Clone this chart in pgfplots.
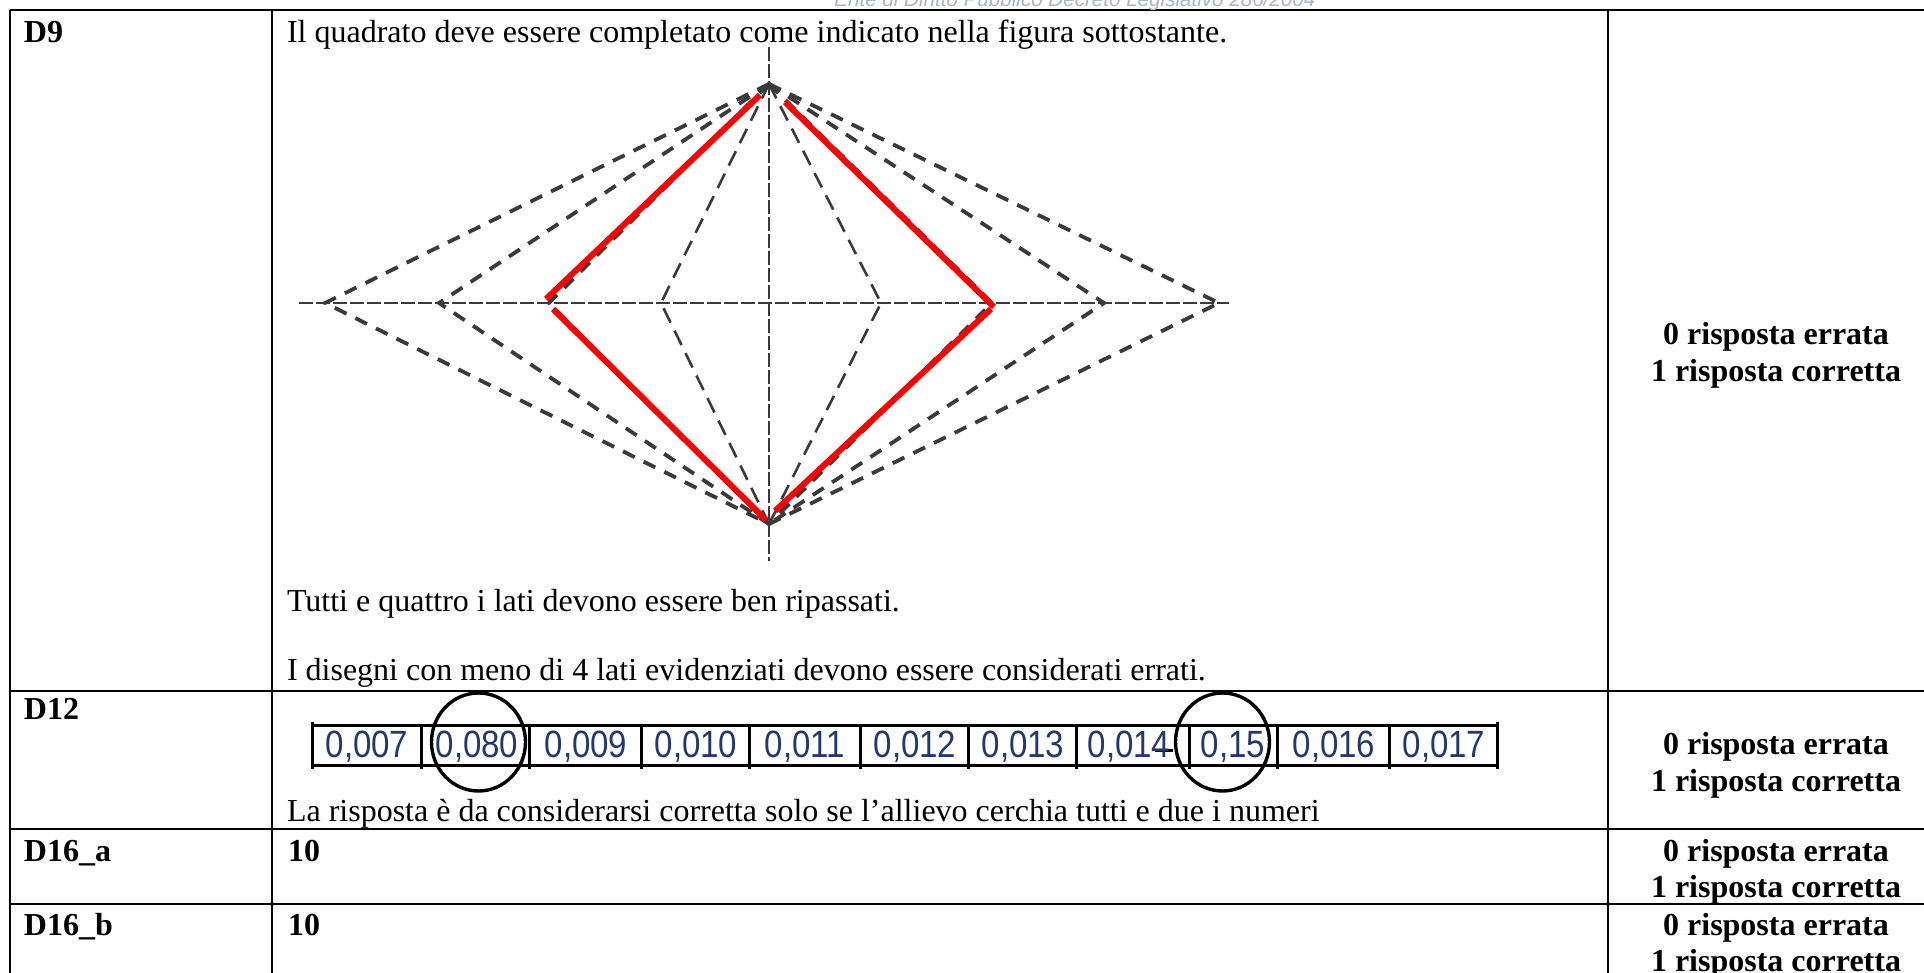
\documentclass[border=0pt]{standalone}
\usepackage{fontspec}
\setmainfont{Liberation Serif}
\newfontfamily\numfont[FakeStretch=0.87]{Liberation Sans}
\newfontfamily\headfont{Liberation Sans}
\usepackage{pgfplots}
\pgfplotsset{compat=1.18}
\definecolor{dashc}{HTML}{3A3A3A}
\definecolor{numcol}{HTML}{24386E}
\definecolor{headcol}{HTML}{A9B4C6}
\tikzset{
  txt/.style={inner sep=0pt, outer sep=0pt, font=\fontsize{16}{19}\selectfont},
  num/.style={inner sep=0pt, outer sep=0pt, anchor=base, text=numcol, font=\numfont\fontsize{19}{22}\selectfont},
}
\begin{document}
\begin{tikzpicture}
\useasboundingbox (0,0) rectangle (962pt,486.5pt);
\begin{axis}[
  at={(0,0)}, anchor=south west,
  scale only axis, width=962pt, height=486.5pt,
  xmin=0, xmax=1924, ymin=0, ymax=973, y dir=reverse,
  axis lines=none, clip=false,
  rule/.style={black, line width=1.2pt},
  outerd/.style={dashc, line width=1.9pt, dash pattern=on 6.5pt off 5pt},
  innerd/.style={dashc, line width=1.3pt, dash pattern=on 8pt off 4.5pt},
  axisd/.style={dashc, line width=0.9pt, dash pattern=on 7pt off 1.5pt},
  redl/.style={red, line width=3pt},
  cell/.style={black, line width=1.5pt},
]
% table rules
\addplot[rule] coordinates {(10,10)(1924,10)};
\addplot[rule] coordinates {(10,691)(1924,691)};
\addplot[rule] coordinates {(10,829)(1924,829)};
\addplot[rule] coordinates {(10,904)(1924,904)};
\addplot[rule] coordinates {(10,10)(10,973)};
\addplot[rule] coordinates {(272,10)(272,973)};
\addplot[rule] coordinates {(1608,10)(1608,973)};
% axes of the figure
\addplot[axisd] coordinates {(299,303)(1229,303)};
\addplot[axisd] coordinates {(769,47)(769,561)};
% dashed rhombi
\addplot[outerd] coordinates {(769,84)(325,303)(769,524)};
\addplot[outerd] coordinates {(769,84)(439,303)(769,524)};
\addplot[outerd] coordinates {(769,84)(549,303)(769,524)};
\addplot[innerd] coordinates {(769,84)(661,303)(769,524)};
\addplot[innerd] coordinates {(769,84)(881,303)(769,524)};
\addplot[outerd] coordinates {(769,84)(992,303)(769,524)};
\addplot[outerd] coordinates {(769,84)(1104,303)(769,524)};
\addplot[outerd] coordinates {(769,84)(1219,303)(769,524)};
% red sides
\addplot[redl] coordinates {(760,95)(546,299)};
\addplot[redl] coordinates {(785,102)(994,307)};
\addplot[redl] coordinates {(553,309)(766,520)};
\addplot[redl] coordinates {(991,309)(775,511)};
% number strip
\addplot[cell] coordinates {(312,725)(1497,725)};
\addplot[cell] coordinates {(312,765)(1497,765)};
\addplot[cell] coordinates {(312,722)(312,769)};
\addplot[cell] coordinates {(421,725)(421,769)};
\addplot[cell] coordinates {(529,725)(529,769)};
\addplot[cell] coordinates {(641,725)(641,769)};
\addplot[cell] coordinates {(749,725)(749,769)};
\addplot[cell] coordinates {(860,725)(860,769)};
\addplot[cell] coordinates {(968,725)(968,769)};
\addplot[cell] coordinates {(1076,725)(1076,769)};
\addplot[cell] coordinates {(1189,725)(1189,769)};
\addplot[cell] coordinates {(1277,725)(1277,769)};
\addplot[cell] coordinates {(1389,725)(1389,769)};
\addplot[cell] coordinates {(1497,722)(1497,769)};
\addplot[cell] coordinates {(1155,750)(1173,750)};
\node[num] at (axis cs:367,757) {0,007};
\node[num] at (axis cs:477,757) {0,080};
\node[num] at (axis cs:586,757) {0,009};
\node[num] at (axis cs:696,757) {0,010};
\node[num] at (axis cs:805,757) {0,011};
\node[num] at (axis cs:915,757) {0,012};
\node[num] at (axis cs:1023,757) {0,013};
\node[num] at (axis cs:1129,757) {0,014};
\node[num] at (axis cs:1233,757) {0,15};
\node[num] at (axis cs:1334,757) {0,016};
\node[num] at (axis cs:1444,757) {0,017};
\draw[black, line width=1.7pt] (axis cs:478.5,742) ellipse [x radius=23.5pt, y radius=24.5pt];
\draw[black, line width=1.7pt] (axis cs:1222.5,742) ellipse [x radius=23.5pt, y radius=24.5pt];
% text
\node[inner sep=0pt, anchor=base west, text=headcol, font=\headfont\itshape\fontsize{10.3}{12}\selectfont] at (axis cs:834,7) {Ente di Diritto Pubblico Decreto Legislativo 286/2004};
\node[txt, anchor=base west] at (axis cs:24,43) {\textbf{D9}};
\node[txt, anchor=base west] at (axis cs:24,719) {\textbf{D12}};
\node[txt, anchor=base west] at (axis cs:24,861) {\textbf{D16\_a}};
\node[txt, anchor=base west] at (axis cs:24,935) {\textbf{D16\_b}};
\node[txt, anchor=base west] at (axis cs:287,43) {Il quadrato deve essere completato come indicato nella figura sottostante.};
\node[txt, anchor=base west] at (axis cs:287,611) {Tutti e quattro i lati devono essere ben ripassati.};
\node[txt, anchor=base west] at (axis cs:287,680) {I disegni con meno di 4 lati evidenziati devono essere considerati errati.};
\node[txt, anchor=base west] at (axis cs:287,821) {La risposta è da considerarsi corretta solo se l’allievo cerchia tutti e due i numeri};
\node[txt, anchor=base west] at (axis cs:288,861) {\textbf{10}};
\node[txt, anchor=base west] at (axis cs:288,935) {\textbf{10}};
\node[txt, anchor=base] at (axis cs:1776,345) {\textbf{0 risposta errata}};
\node[txt, anchor=base] at (axis cs:1776,382) {\textbf{1 risposta corretta}};
\node[txt, anchor=base] at (axis cs:1776,754) {\textbf{0 risposta errata}};
\node[txt, anchor=base] at (axis cs:1776,791) {\textbf{1 risposta corretta}};
\node[txt, anchor=base] at (axis cs:1776,861) {\textbf{0 risposta errata}};
\node[txt, anchor=base] at (axis cs:1776,897) {\textbf{1 risposta corretta}};
\node[txt, anchor=base] at (axis cs:1776,935) {\textbf{0 risposta errata}};
\node[txt, anchor=base] at (axis cs:1776,971) {\textbf{1 risposta corretta}};
\end{axis}
\end{tikzpicture}
\end{document}
